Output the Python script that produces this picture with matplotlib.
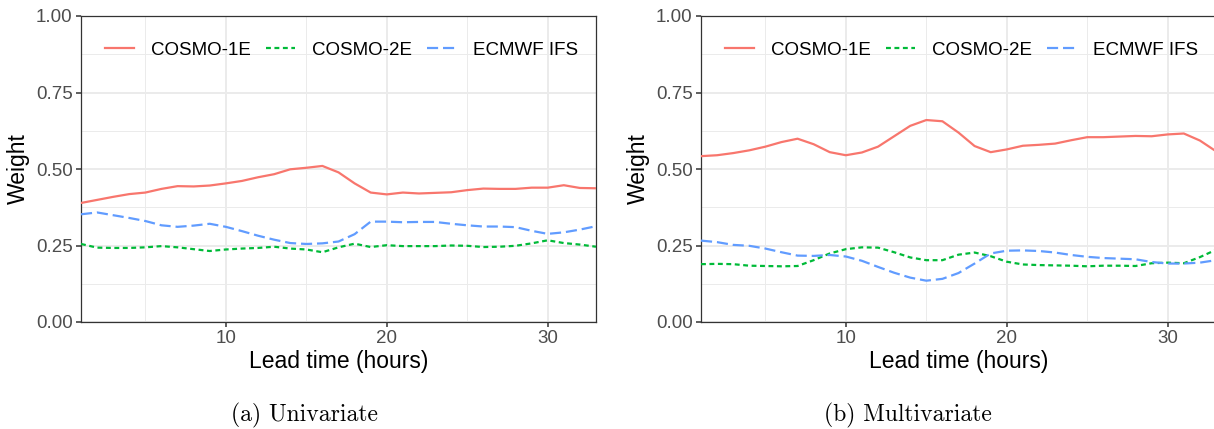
import matplotlib.pyplot as plt
from matplotlib.ticker import MultipleLocator

# lead times (hours)
lead_time = list(range(1, 34))

# (a) univariate weights
uni_cosmo1 = [0.389, 0.399, 0.409, 0.418, 0.423, 0.435, 0.444, 0.443, 0.446, 0.453, 0.461,
              0.473, 0.483, 0.499, 0.504, 0.510, 0.489, 0.453, 0.423, 0.417, 0.423, 0.420,
              0.422, 0.424, 0.431, 0.436, 0.435, 0.435, 0.439, 0.439, 0.447, 0.438, 0.437]
uni_cosmo2 = [0.255, 0.243, 0.242, 0.242, 0.244, 0.248, 0.244, 0.238, 0.232, 0.237, 0.240,
              0.242, 0.246, 0.240, 0.237, 0.228, 0.244, 0.256, 0.245, 0.251, 0.248, 0.248,
              0.248, 0.250, 0.249, 0.245, 0.246, 0.249, 0.257, 0.267, 0.258, 0.253, 0.246]
uni_ecmwf = [0.352, 0.358, 0.349, 0.340, 0.330, 0.316, 0.311, 0.315, 0.321, 0.311, 0.297,
             0.282, 0.269, 0.258, 0.255, 0.257, 0.263, 0.287, 0.328, 0.328, 0.326, 0.327,
             0.327, 0.321, 0.316, 0.312, 0.312, 0.310, 0.298, 0.288, 0.293, 0.302, 0.313]

# (b) multivariate weights
multi_cosmo1 = [0.542, 0.545, 0.552, 0.561, 0.573, 0.588, 0.599, 0.581, 0.555, 0.545, 0.554,
                0.573, 0.607, 0.641, 0.660, 0.656, 0.619, 0.575, 0.555, 0.564, 0.576, 0.579,
                0.583, 0.594, 0.604, 0.604, 0.606, 0.608, 0.607, 0.613, 0.616, 0.593, 0.558]
multi_cosmo2 = [0.189, 0.190, 0.189, 0.184, 0.183, 0.182, 0.183, 0.202, 0.224, 0.238, 0.244,
                0.243, 0.228, 0.211, 0.202, 0.202, 0.220, 0.227, 0.215, 0.197, 0.188, 0.186,
                0.185, 0.184, 0.182, 0.184, 0.184, 0.183, 0.192, 0.194, 0.192, 0.212, 0.236]
multi_ecmwf = [0.266, 0.261, 0.252, 0.249, 0.240, 0.228, 0.217, 0.216, 0.219, 0.214, 0.200,
               0.180, 0.161, 0.145, 0.135, 0.141, 0.160, 0.191, 0.224, 0.233, 0.234, 0.232,
               0.227, 0.219, 0.213, 0.209, 0.207, 0.205, 0.196, 0.191, 0.191, 0.194, 0.202]

models = ['COSMO-1E', 'COSMO-2E', 'ECMWF IFS']
colors = ['#F8766D', '#00BA38', '#619CFF']
styles = ['-', (0, (2.2, 1.6)), (0, (5, 2.2))]
captions = ['(a) Univariate', '(b) Multivariate']

plt.rcParams['font.family'] = ['Liberation Sans', 'DejaVu Sans']

W, H = 1214, 429
fig = plt.figure(figsize=(W / 100, H / 100), dpi=100)

panels = [(81, [uni_cosmo1, uni_cosmo2, uni_ecmwf]),
          (701, [multi_cosmo1, multi_cosmo2, multi_ecmwf])]

for i, (left, series) in enumerate(panels):
    ax = fig.add_axes([left / W, (H - 322) / H, 515 / W, 306 / H])
    for vals, name, c, ls in zip(series, models, colors, styles):
        ax.plot(lead_time, vals, color=c, linestyle=ls, linewidth=1.6, label=name, zorder=3)
    ax.set_xlim(1, 33)
    ax.set_ylim(0, 1)
    ax.xaxis.set_major_locator(MultipleLocator(10))
    ax.xaxis.set_minor_locator(MultipleLocator(5))
    ax.yaxis.set_major_locator(MultipleLocator(0.25))
    ax.yaxis.set_minor_locator(MultipleLocator(0.125))
    ax.yaxis.set_major_formatter(lambda v, p: f'{v:.2f}')
    ax.grid(which='major', color='#EBEBEB', linewidth=1.4)
    ax.grid(which='minor', color='#EBEBEB', linewidth=0.7)
    ax.set_axisbelow(True)
    ax.tick_params(which='major', length=3.5, width=1.1, color='#333333',
                   labelcolor='#4D4D4D', labelsize=13.5, pad=2.5)
    ax.tick_params(which='minor', length=0)
    for s in ax.spines.values():
        s.set_color('#333333')
        s.set_linewidth(0.9)
    ax.set_xlabel('Lead time (hours)', fontsize=16.5, labelpad=2)
    ax.set_ylabel('Weight', fontsize=16.5, labelpad=4)
    ax.legend(loc='center left', bbox_to_anchor=(0.047, 0.889), ncol=3, frameon=False,
              fontsize=13.5, handlelength=1.55, handletextpad=0.9, columnspacing=0.8,
              borderpad=0, borderaxespad=0)
    cx = (304 if i == 0 else 908) / W
    fig.text(cx, 1 - 415 / H, captions[i], ha='center', va='center',
             family='cmr10', fontsize=17)

fig.savefig('out.png', dpi=100)
